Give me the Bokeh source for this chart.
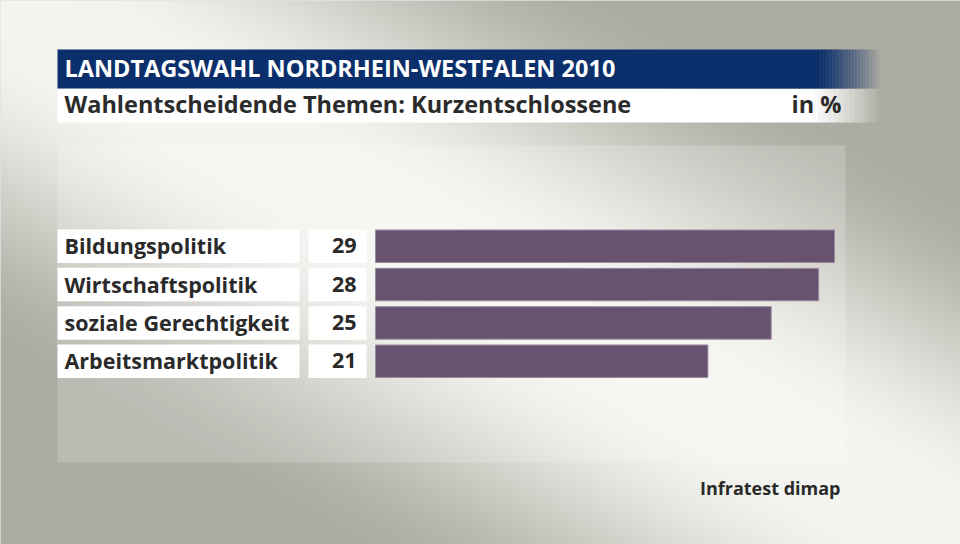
import numpy as np
from bokeh.plotting import figure
from bokeh.models import Range1d, ColumnDataSource
from bokeh.core.properties import value
from bokeh.embed import file_html
from bokeh.resources import INLINE

# ---- data ----
categories = ["Bildungspolitik", "Wirtschaftspolitik", "soziale Gerechtigkeit", "Arbeitsmarktpolitik"]
values = [29, 28, 25, 21]
value_labels = ["29", "28", "25", "21"]
title_text = "LANDTAGSWAHL NORDRHEIN-WESTFALEN 2010"
subtitle_text = "Wahlentscheidende Themen: Kurzentschlossene"
unit_text = "in %"
source_text = "Infratest dimap"

# ---- layout (page pixel coordinates) ----
W, H = 960, 544
FONT = value("Open Sans")


def Y(py):
    return H - py


p = figure(width=W, height=H, x_range=Range1d(0, W), y_range=Range1d(0, H),
           toolbar_location=None, output_backend="svg", min_border=0,
           x_axis_type=None, y_axis_type=None)
p.outline_line_color = None
p.background_fill_color = "#c8c7bf"
p.border_fill_color = "#c8c7bf"
for g in p.grid:
    g.visible = False

# ---- background gradient (diagonal light band) ----
xs = np.arange(0, W) + 0.5
ys = np.arange(0, H) + 0.5
X, PY = np.meshgrid(xs, ys)
d = -0.493 * X + 0.870 * PY
t = np.clip((np.abs(d) - 30) / 280.0, 0, 1)
s = t * t * (3 - 2 * t)
light = np.array([244, 245, 240], dtype=float)
dark = np.array([173, 172, 163], dtype=float)
rgb = light[None, None, :] * (1 - s[..., None]) + dark[None, None, :] * s[..., None]
img = np.empty((H, W), dtype=np.uint32)
view = img.view(dtype=np.uint8).reshape((H, W, 4))
view[..., 0] = rgb[..., 0]
view[..., 1] = rgb[..., 1]
view[..., 2] = rgb[..., 2]
view[..., 3] = 255
img = img[::-1]
p.image_rgba(image=[img], x=0, y=0, dw=W, dh=H)

# ---- panel ----
p.quad(left=57, right=845, top=Y(145), bottom=Y(462), fill_color="white", fill_alpha=0.18, line_color=None)


# ---- title bar with fade ----
def bar_with_fade(x0, x_fade, x1, top, bottom, color, n=40):
    p.quad(left=x0, right=x_fade + 0.3, top=Y(top), bottom=Y(bottom), fill_color=color, line_color=None)
    step = (x1 - x_fade) / n
    lefts = [x_fade + k * step for k in range(n)]
    rights = [x_fade + (k + 1) * step + 0.3 for k in range(n)]
    alphas = [1 - (k + 0.5) / n for k in range(n)]
    src = ColumnDataSource(dict(l=lefts, r=rights, a=alphas))
    p.quad(left="l", right="r", top=Y(top), bottom=Y(bottom), fill_color=color, fill_alpha="a",
           line_color=None, source=src)


bar_with_fade(57, 820, 880, 49, 88, "#0b2f6b")
bar_with_fade(57, 813, 880, 88.5, 122, "#ffffff")

p.text(x=[64], y=[Y(67.5)], text=[title_text], text_font=FONT, text_font_style="bold",
       text_font_size="23.5px", text_color="white", text_baseline="middle")
p.text(x=[64], y=[Y(103)], text=[subtitle_text], text_font=FONT, text_font_style="bold",
       text_font_size="23.5px", text_color="#2b2b2b", text_baseline="middle")
p.text(x=[841], y=[Y(103)], text=[unit_text], text_font=FONT, text_font_style="bold",
       text_font_size="23.5px", text_color="#2b2b2b", text_baseline="middle", text_align="right")

# ---- rows ----
row_top0, row_pitch, row_h = 229.0, 38.33, 33.5
n = len(categories)
tops = [row_top0 + i * row_pitch for i in range(n)]
centers = [Y(t0 + row_h / 2) for t0 in tops]
text_ys = [Y(t0 + row_h / 2 - 0.5) for t0 in tops]

p.quad(left=57, right=299, top=[Y(t0) for t0 in tops], bottom=[Y(t0 + row_h) for t0 in tops],
       fill_color="white", line_color=None)
p.quad(left=308, right=366, top=[Y(t0) for t0 in tops], bottom=[Y(t0 + row_h) for t0 in tops],
       fill_color="white", line_color=None)

# value scale for bars
bar_x0, bar_xmax = 375.0, 834.0
scale = (bar_xmax - bar_x0) / max(values)
p.extra_x_ranges = {"val": Range1d(-bar_x0 / scale, (W - bar_x0) / scale)}
src = ColumnDataSource(dict(y=centers, v=values))
p.hbar(y="y", left=0, right="v", height=row_h - 1, source=src, x_range_name="val",
       fill_color="#67536f", line_color="#9a8ba0", line_width=1)

p.text(x=64, y=text_ys, text=categories, text_font=FONT, text_font_style="bold",
       text_font_size="21.5px", text_color="#2a2a2a", text_baseline="middle")
p.text(x=356, y=text_ys, text=value_labels, text_font=FONT, text_font_style="bold",
       text_font_size="21.5px", text_color="#2a2a2a", text_baseline="middle", text_align="right")

p.text(x=[840], y=[Y(487)], text=[source_text], text_font=FONT, text_font_style="bold",
       text_font_size="18px", text_color="#2a2a2a", text_baseline="middle", text_align="right")

open("out.html", "w").write(file_html(p, INLINE))
